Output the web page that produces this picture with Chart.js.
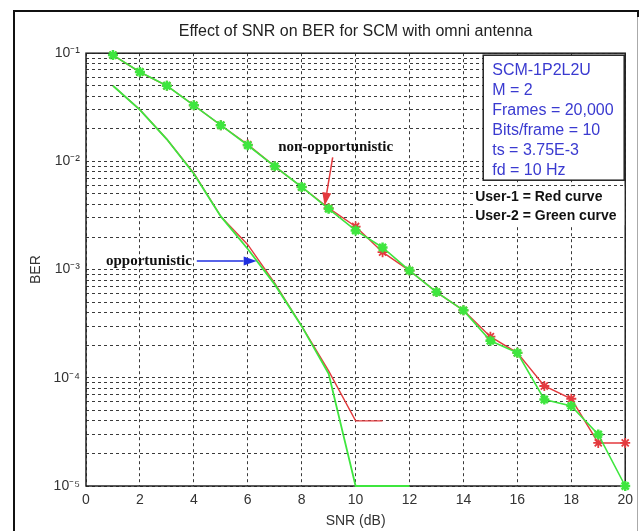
<!DOCTYPE html>
<html>
<head>
<meta charset="utf-8">
<title>Effect of SNR on BER</title>
<script src="https://cdn.jsdelivr.net/npm/chart.js@4.4.0/dist/chart.umd.min.js"></script>
<style>
    body { margin: 0; background: #fff; }
    #wrap { width: 639px; height: 531px; position: relative; }
</style>
</head>
<body>
<div id="wrap"><canvas id="berChart" width="639" height="531"></canvas></div>
<script>
// SNR values (dB)
const snr = [1, 2, 3, 4, 5, 6, 7, 8, 9, 10, 11, 12, 13, 14, 15, 16, 17, 18, 19, 20];
const snrOppUser1 = [1, 2, 3, 4, 5, 6, 7, 8, 9, 10, 11];
const snrOppUser2 = [1, 2, 3, 4, 5, 6, 7, 8, 9, 10, 11, 12];

// non-opportunistic BER
const berUser1 = [0.096, 0.067, 0.050, 0.033, 0.0216, 0.0143, 0.0090, 0.0058, 0.0037, 0.0025,
                  0.00145, 0.00098, 0.00062, 0.00042, 0.000240, 0.000170, 0.000084, 0.000064, 0.000025, 0.000025];
const berUser2 = [0.096, 0.067, 0.050, 0.033, 0.0216, 0.0141, 0.0090, 0.0058, 0.00365, 0.0023,
                  0.0016, 0.00098, 0.00062, 0.00042, 0.000220, 0.000170, 0.000063, 0.000055, 0.000030, 0.00001];

// opportunistic BER
const berOppUser1 = [0.050, 0.0300, 0.0160, 0.0078, 0.0031, 0.0017, 0.00075, 0.00030, 0.000116, 0.00004, 0.00004];
const berOppUser2 = [0.050, 0.0300, 0.0160, 0.0077, 0.0031, 0.00155, 0.00073, 0.00030, 0.000109, 0.00001, 0.00001, 0.00001];

// axis ticks
const xTicks = [0, 2, 4, 6, 8, 10, 12, 14, 16, 18, 20];
const yDecades = [1e-5, 1e-4, 1e-3, 1e-2, 1e-1];
const yTickLabels = ['10\u207B\u2075', '10\u207B\u2074', '10\u207B\u00B3', '10\u207B\u00B2', '10\u207B\u00B9'];

const infoLines = ['SCM-1P2L2U', 'M = 2', 'Frames = 20,000', 'Bits/frame = 10', 'ts = 3.75E-3', 'fd = 10 Hz'];
const userLines = ['User-1 = Red curve', 'User-2 = Green curve'];

const RED = '#e43a3e';
const GREEN = '#3ee63e';

const toPoints = (xs, ys) => xs.map((x, i) => ({ x: x, y: ys[i] }));

// minor + major log grid
const yGridValues = [];
yDecades.forEach(d => {
    for (let m = 1; m <= 9; m++) {
        const v = d * m;
        if (v <= 0.1 + 1e-12) yGridValues.push(v);
    }
});

function drawArrow(ctx, x1, y1, x2, y2, color) {
    const ang = Math.atan2(y2 - y1, x2 - x1);
    const len = 13, half = 4.5;
    ctx.save();
    ctx.strokeStyle = color;
    ctx.fillStyle = color;
    ctx.lineWidth = 1.5;
    ctx.beginPath();
    ctx.moveTo(x1, y1);
    ctx.lineTo(x2 - Math.cos(ang) * len, y2 - Math.sin(ang) * len);
    ctx.stroke();
    ctx.beginPath();
    ctx.moveTo(x2, y2);
    ctx.lineTo(x2 - Math.cos(ang) * len - Math.sin(ang) * half, y2 - Math.sin(ang) * len + Math.cos(ang) * half);
    ctx.lineTo(x2 - Math.cos(ang) * len + Math.sin(ang) * half, y2 - Math.sin(ang) * len - Math.cos(ang) * half);
    ctx.closePath();
    ctx.fill();
    ctx.restore();
}

const decorations = {
    id: 'decorations',
    beforeDraw(chart) {
        const ctx = chart.ctx;
        ctx.save();
        ctx.fillStyle = '#fff';
        ctx.fillRect(0, 0, chart.width, chart.height);
        // outer figure frame
        ctx.strokeStyle = '#aaa';
        ctx.lineWidth = 1;
        ctx.beginPath();
        ctx.moveTo(637.5, 17);
        ctx.lineTo(637.5, chart.height);
        ctx.stroke();
        ctx.strokeStyle = '#111';
        ctx.lineWidth = 2;
        ctx.beginPath();
        ctx.moveTo(14, chart.height + 2);
        ctx.lineTo(14, 11);
        ctx.lineTo(638, 11);
        ctx.lineTo(638, 17);
        ctx.stroke();
        ctx.restore();
    },
    beforeDatasetsDraw(chart) {
        // axes box under the curves
        const { ctx, chartArea: a } = chart;
        ctx.save();
        ctx.strokeStyle = '#222';
        ctx.lineWidth = 1.5;
        ctx.strokeRect(a.left, a.top, a.right - a.left, a.bottom - a.top);
        ctx.restore();
    },
    afterDraw(chart) {
        const { ctx, chartArea: a, scales: { x, y } } = chart;
        ctx.save();

        // parameter box
        const bx = a.right - 142, by = a.top + 2;
        ctx.fillStyle = '#fff';
        ctx.fillRect(bx, by, 141, 125);
        ctx.strokeStyle = '#222';
        ctx.lineWidth = 1.5;
        ctx.strokeRect(bx, by, 141, 125);
        ctx.fillStyle = '#3a3ad0';
        ctx.font = '16px "Liberation Sans", Arial, sans-serif';
        ctx.textBaseline = 'middle';
        ctx.textAlign = 'left';
        infoLines.forEach((t, i) => ctx.fillText(t, bx + 9, by + 15 + i * 20));

        // user legend
        ctx.fillStyle = '#fff';
        ctx.fillRect(a.right - 151, a.top + 133, 150, 39);
        ctx.fillStyle = '#111';
        ctx.font = 'bold 14px "Liberation Sans", Arial, sans-serif';
        userLines.forEach((t, i) => ctx.fillText(t, a.right - 150, a.top + 144 + i * 19));

        // annotations
        ctx.font = 'bold 15px "Liberation Serif", "Times New Roman", serif';
        ctx.fillStyle = '#111';
        ctx.textAlign = 'center';
        ctx.fillText('non-opportunistic', x.getPixelForValue(9.26), y.getPixelForValue(0.01355));
        drawArrow(ctx, x.getPixelForValue(9.15), y.getPixelForValue(0.0109),
                  x.getPixelForValue(8.85), y.getPixelForValue(0.0039), RED);

        ctx.textAlign = 'left';
        ctx.fillText('opportunistic', x.getPixelForValue(0.74), y.getPixelForValue(0.0012));
        drawArrow(ctx, x.getPixelForValue(4.11), y.getPixelForValue(0.0012),
                  x.getPixelForValue(6.33), y.getPixelForValue(0.0012), '#2030e0');

        ctx.restore();
    }
};

const gridStyle = { color: '#3a3a3a', lineWidth: 1, drawTicks: false };
const tickFont = { family: '"Liberation Sans", Arial, sans-serif', size: 14 };

new Chart(document.getElementById('berChart'), {
    type: 'line',
    data: {
        datasets: [
            {
                label: 'User-2 non-opportunistic',
                data: toPoints(snr, berUser2),
                borderColor: GREEN, backgroundColor: GREEN,
                borderWidth: 1.6, pointStyle: 'star', pointRadius: 5, pointBorderWidth: 2.5,
                order: 0, clip: false
            },
            {
                label: 'User-1 non-opportunistic',
                data: toPoints(snr, berUser1),
                borderColor: RED, backgroundColor: RED,
                borderWidth: 1.4, pointStyle: 'star', pointRadius: 5, pointBorderWidth: 1.8,
                order: 1, clip: false
            },
            {
                label: 'User-2 opportunistic',
                data: toPoints(snrOppUser2, berOppUser2),
                borderColor: GREEN, borderWidth: 1.8, pointRadius: 0,
                order: 0, clip: false
            },
            {
                label: 'User-1 opportunistic',
                data: toPoints(snrOppUser1, berOppUser1),
                borderColor: RED, borderWidth: 1.4, pointRadius: 0,
                order: 1, clip: false
            }
        ]
    },
    options: {
        responsive: false,
        animation: false,
        layout: { padding: { left: 0, right: 12, top: 0, bottom: 0 } },
        plugins: {
            legend: { display: false },
            tooltip: { enabled: false },
            title: {
                display: true,
                fullSize: false,
                text: 'Effect of SNR on BER for SCM with omni antenna',
                color: '#222',
                font: { family: '"Liberation Sans", Arial, sans-serif', size: 16, weight: 'normal', lineHeight: 1.2 },
                padding: { top: 22, bottom: 12 }
            }
        },
        scales: {
            x: {
                type: 'linear',
                min: 0,
                max: 20,
                afterBuildTicks: (scale) => { scale.ticks = xTicks.map(v => ({ value: v })); },
                afterFit: (scale) => { scale.height = 45; },
                grid: gridStyle,
                border: { display: false, dash: [3, 3] },
                ticks: { color: '#333', font: tickFont, padding: 6, autoSkip: false, maxRotation: 0 },
                title: {
                    display: true, text: 'SNR (dB)', color: '#333',
                    font: { family: '"Liberation Sans", Arial, sans-serif', size: 14 },
                    padding: { top: 0, bottom: 1 }
                }
            },
            y: {
                type: 'logarithmic',
                min: 1e-5,
                max: 1e-1,
                afterBuildTicks: (scale) => { scale.ticks = yGridValues.map(v => ({ value: v })); },
                afterFit: (scale) => { scale.width = 86; },
                grid: gridStyle,
                border: { display: false, dash: [3, 3] },
                ticks: {
                    color: '#333', font: tickFont, padding: 6, autoSkip: false,
                    callback: (v) => {
                        const i = yDecades.findIndex(d => Math.abs(d - v) / d < 1e-6);
                        return i >= 0 ? yTickLabels[i] : '';
                    }
                },
                title: {
                    display: true, text: 'BER', color: '#333',
                    font: { family: '"Liberation Sans", Arial, sans-serif', size: 14 },
                    padding: { top: 28, bottom: 0 }
                }
            }
        }
    },
    plugins: [decorations]
});
</script>
</body>
</html>
